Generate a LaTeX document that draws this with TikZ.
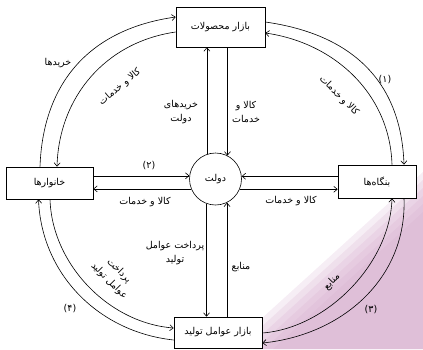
\documentclass[tikz,border=0pt]{standalone}
\usepackage{fontspec}
\usepackage{tikz}
\usetikzlibrary{arrows.meta,calc}
\newfontfamily\arabicfont[Script=Arabic]{DejaVu Sans}
\TeXXeTstate=1
\newcommand{\fa}[1]{\beginR #1\endR}
\definecolor{pinkbg}{RGB}{212,168,203}

\begin{document}
\begin{tikzpicture}[x=1pt, y=-1pt, line width=0.6pt,
    >={Straight Barb[length=3.5pt,width=6pt]},
    box/.style={draw, fill=white, inner sep=0pt, font=\arabicfont\fontsize{9.5}{12}\selectfont},
    lbl/.style={inner sep=1pt, font=\arabicfont\fontsize{9.5}{14}\selectfont}]
    \useasboundingbox (0,0) rectangle (423,349);

    % tint of the scan, bottom right
    \foreach \k in {0,...,5}
        \fill[pinkbg, opacity=0.2] (423,172+\k*8) -- (423,349) -- (228+\k*9,349) -- cycle;

    \node[box, minimum width=89pt, minimum height=40pt] (mkt) at (220.5,27) {\fa{بازار محصولات}};
    \node[box, minimum width=87pt, minimum height=32pt] (house) at (49.5,183) {\fa{خانوارها}};
    \node[box, minimum width=78pt, minimum height=33pt] (firm) at (377,181.5) {\fa{بنگاه^^^^200cها}};
    \node[box, minimum width=88pt, minimum height=31pt] (fac) at (218,332.5) {\fa{بازار عوامل تولید}};
    \node[box, circle, minimum size=52pt] (gov) at (215.5,179) {\fa{دولت}};

    % government links
    \draw[->] (gov.109.1) -- (gov.109.1 |- mkt.south);
    \draw[->] (gov.63.75 |- mkt.south) -- (gov.63.75);
    \draw[->] (gov.250.9) -- (gov.250.9 |- fac.north);
    \draw[->] (gov.296.25 |- fac.north) -- (gov.296.25);
    \draw[->] (gov.173.4 -| house.east) -- (gov.173.4);
    \draw[->] (gov.202.6) -- (gov.202.6 -| house.east);
    \draw[->] (gov.6.6 -| firm.west) -- (gov.6.6);
    \draw[->] (gov.337.4) -- (gov.337.4 -| firm.west);

    % outer circuit
    \draw[->] ($(house.north)+(-9.5,0)$) .. controls +(3,-85) and +(-85,12) .. ($(mkt.west)+(0,-10)$);
    \draw[->] ($(mkt.west)+(0,5)$) .. controls +(-70,10) and +(2,-70) .. ($(house.north)+(7.5,0)$);
    \draw[->] ($(mkt.east)+(0,-5)$) .. controls +(85,12) and +(-3,-85) .. ($(firm.north)+(27,0)$);
    \draw[->] ($(firm.north)+(15,0)$) .. controls +(-2,-70) and +(70,10) .. ($(mkt.east)+(0,6)$);
    \draw[->] ($(fac.west)+(0,7.5)$) .. controls +(-75,-8) and +(3,75) .. ($(house.south)+(-11,0)$);
    \draw[->] ($(house.south)+(0.5,0)$) .. controls +(2,65) and +(-65,-5) .. ($(fac.west)+(0,-4.5)$);
    \draw[->] ($(fac.east)+(0,0.5)$) .. controls +(65,-5) and +(-2,65) .. ($(firm.south)+(15,0)$);
    \draw[->] ($(firm.south)+(27,0)$) .. controls +(3,80) and +(80,-8) .. ($(fac.east)+(0,10.5)$);

    \node[lbl] (buy) at (58,63) {\fa{خریدها}};
    \node[lbl, rotate=40] (tlgoods) at (120,87) {\fa{کالا و خدمات}};
    \node[lbl, rotate=-45] (trgoods) at (339,96) {\fa{کالا و خدمات}};
    \node[lbl, rotate=-45, align=center] (blpay) at (114,276) {\fa{پرداخت}\\\fa{عوامل تولید}};
    \node[lbl, rotate=45] (brres) at (332,282) {\fa{منابع}};
    \node[lbl] (n1) at (385,80) {(۱)};
    \node[lbl] (n2) at (149,166) {(۲)};
    \node[lbl] (n3) at (371,310) {(۳)};
    \node[lbl] (n4) at (70,309) {(۴)};

    \node[lbl, align=center] (govbuy) at (181,112) {\fa{خریدهای}\\\fa{دولت}};
    \node[lbl, align=center] (govgoods) at (246,112) {\fa{کالا و}\\\fa{خدمات}};
    \node[lbl, align=center] (govpay) at (175,253) {\fa{پرداخت عوامل}\\\fa{تولید}};
    \node[lbl] (govres) at (241,267) {\fa{منابع}};
    \node[lbl] (hgoods) at (145,202) {\fa{کالا و خدمات}};
    \node[lbl] (fgoods) at (291,201) {\fa{کالا و خدمات}};
\end{tikzpicture}
\end{document}
